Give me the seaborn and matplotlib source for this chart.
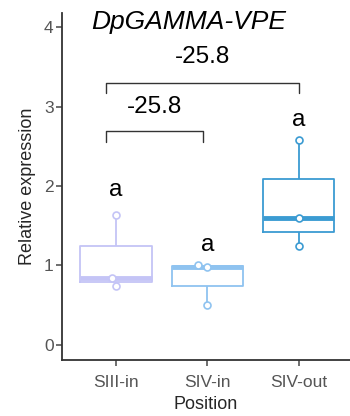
import matplotlib
matplotlib.use("Agg")
import matplotlib.pyplot as plt
import seaborn as sns
import pandas as pd

# data
positions = ["SIII-in", "SIV-in", "SIV-out"]
siii_in = [1.64, 0.84, 0.74]
siv_in = [1.0, 0.98, 0.50]
siv_out = [2.58, 1.60, 1.24]
colors = ["#c4c4f6", "#8fc3f0", "#3b9bd2"]
letters = ["a", "a", "a"]
letter_y = [1.95, 1.26, 2.83]
# (start, end, bracket height, label height, label)
brackets = [(-0.11, 0.95, 2.69, 3.0, "-25.8"), (-0.11, 2.0, 3.3, 3.63, "-25.8")]

df = pd.DataFrame({
    "Position": [positions[0]] * 3 + [positions[1]] * 3 + [positions[2]] * 3,
    "expr": siii_in + siv_in + siv_out,
})

sns.set_style("ticks")
plt.rcParams["font.family"] = ["Liberation Sans", "DejaVu Sans"]

fig = plt.figure(figsize=(3.5, 4.16), dpi=100)
ax = fig.add_axes([0.177, 0.135, 0.823, 0.834])

for pos, col in zip(positions, colors):
    sub = df[df["Position"] == pos]
    sns.boxplot(data=sub, x="Position", y="expr", order=positions, color=col,
                fill=False, width=0.78, showcaps=False, showfliers=False,
                linewidth=1.3, medianprops=dict(linewidth=3.5), ax=ax)
    sns.swarmplot(data=sub, x="Position", y="expr", order=positions,
                  color="white", edgecolor=col, linewidth=1.2, size=5,
                  zorder=3, ax=ax)

for i, (lt, ly) in enumerate(zip(letters, letter_y)):
    ax.text(i, ly, lt, ha="center", va="center", fontsize=17.5, color="black")

for x0, x1, by, ty, lab in brackets:
    ax.plot([x0, x0, x1, x1], [by - 0.13, by, by, by - 0.13], color="#333333", lw=1)
    ax.text((x0 + x1) / 2, ty, lab, ha="center", va="center", fontsize=17.5,
            color="black")

ax.text(0.8, 4.06, "DpGAMMA-VPE", style="italic", ha="center", va="center",
        fontsize=19, color="black")

ax.set_xlim(-0.59, 2.56)
ax.set_ylim(-0.19, 4.18)
ax.set_yticks([0, 1, 2, 3, 4])
ax.set_xlabel("Position", fontsize=13, labelpad=4)
ax.set_ylabel("Relative expression", fontsize=13, labelpad=6)
ax.tick_params(colors="#555555", labelsize=12.5, length=4, width=1.2, pad=2)
ax.tick_params(axis="x", pad=7)
for s in ["left", "bottom"]:
    ax.spines[s].set_color("#333333")
    ax.spines[s].set_linewidth(1.3)
sns.despine(ax=ax)

fig.savefig("out.png", dpi=100)
